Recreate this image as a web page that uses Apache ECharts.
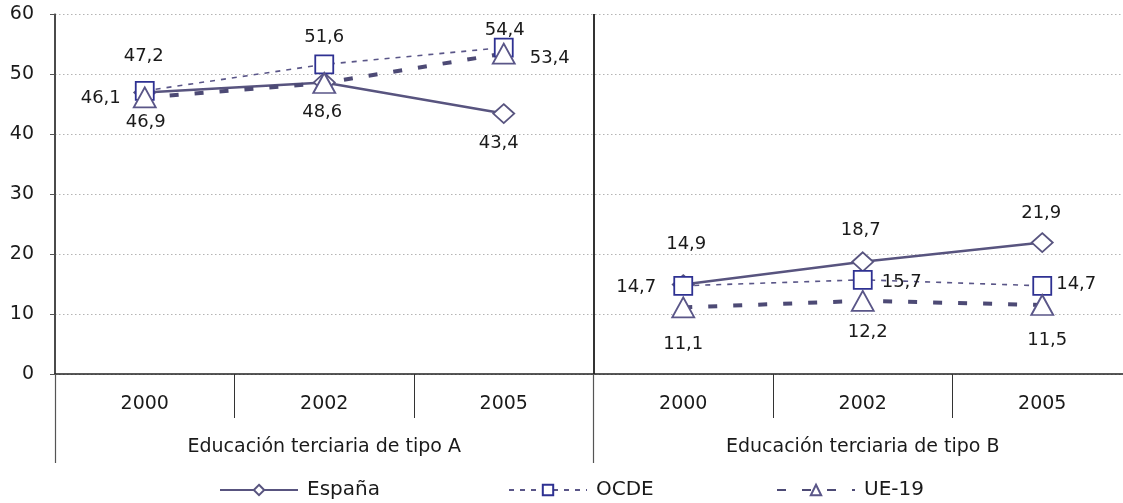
<!DOCTYPE html>
<html><head><meta charset="utf-8">
<script src="https://cdn.jsdelivr.net/npm/echarts@6/dist/echarts.min.js"></script>
<style>html,body{margin:0;padding:0;background:#fff}#c{width:1123px;height:503px}</style>
</head><body><div id="c"></div>
<script>
// ---- data ----
const years = ['2000', '2002', '2005', '2000', '2002', '2005'];
const groups = ['Educación terciaria de tipo A', 'Educación terciaria de tipo B'];
const seriesNames = ['España', 'OCDE', 'UE-19'];
const espana = [46.9, 48.6, 43.4, 14.9, 18.7, 21.9];
const ocde = [47.2, 51.6, 54.4, 14.7, 15.7, 14.7];
const ue19 = [46.1, 48.5, 53.4, 11.1, 12.2, 11.5];
const yTickLabels = [0, 10, 20, 30, 40, 50, 60];

// ---- styling ----
const FONT = 'DejaVu Sans';
const TXT = '#1a1a1a';
const labelOffsets = {
  'España': [[1, 30], [-2, 30], [-5, 30], [3, -40], [-2, -31], [-1, -29]],
  'OCDE':   [[-1, -34], [0, -27], [1, -17], [-47, 2], [39, 3], [34, -1]],
  'UE-19':  [[-44, 1], null, [46, 5], [0, 37], [5, 32], [5, 35]]
};
const styles = {
  'España': { symbol: 'diamond', symbolSize: [21, 19], line: { color: '#58547f', width: 2.5, type: 'solid' }, border: '#58547f' },
  'OCDE':   { symbol: 'rect', symbolSize: [18, 18], line: { color: '#5a5688', width: 1.6, type: [5, 6] }, border: '#2e3192' },
  'UE-19':  { symbol: 'triangle', symbolSize: [22, 20], line: { color: '#4d4a75', width: 4, type: [9, 16] }, border: '#5a5688' }
};
const fmt = v => String(v).replace('.', ',');

function makeSeries(name, values, groupIdx) {
  const st = styles[name];
  const data = values.map((v, i) => {
    if (Math.floor(i / 3) !== groupIdx) return '-';
    const off = labelOffsets[name][i];
    return { value: v, label: off ? { show: true, offset: off } : { show: false } };
  });
  return {
    name, type: 'line', data,
    symbol: st.symbol, symbolSize: st.symbolSize, showAllSymbol: true,
    lineStyle: { color: st.line.color, width: st.line.width, type: st.line.type },
    itemStyle: { color: '#ffffff', borderColor: st.border, borderWidth: 1.8 },
    label: { show: true, position: 'inside', formatter: p => fmt(p.value),
             fontFamily: FONT, fontSize: 18, color: TXT },
    emphasis: { disabled: true },
    animation: false
  };
}

const series = [];
[[ 'España', espana ], [ 'OCDE', ocde ], [ 'UE-19', ue19 ]].forEach(([n, vals]) => {
  series.push(makeSeries(n, vals, 0));
  series.push(makeSeries(n, vals, 1));
});

const legendLefts = [219, 508, 776];

const option = {
  backgroundColor: '#fff',
  animation: false,
  grid: { left: 55, width: 1077, top: 14, bottom: 129, containLabel: false, outerBoundsMode: 'none' },
  xAxis: [
    {
      type: 'category', data: years, position: 'bottom', offset: 0,
      axisLine: { show: true, lineStyle: { color: '#222', width: 1.5 } },
      axisTick: { show: true, interval: 0, length: 44, lineStyle: { color: '#333', width: 1 } },
      axisLabel: { interval: 0, margin: 21, fontFamily: FONT, fontSize: 19, color: TXT },
      splitLine: { show: false }
    },
    {
      type: 'category', data: groups, position: 'bottom', offset: 0,
      axisLine: { show: false },
      axisTick: { show: true, interval: 0, length: 89, lineStyle: { color: '#555', width: 1.2 } },
      axisLabel: { interval: 0, margin: 64, fontFamily: FONT, fontSize: 19, color: TXT },
      splitLine: { show: true, interval: 0, lineStyle: { color: '#333', width: 2 } }
    }
  ],
  yAxis: {
    type: 'value', min: yTickLabels[0], max: yTickLabels[yTickLabels.length - 1],
    interval: yTickLabels[1] - yTickLabels[0],
    axisLine: { show: true, lineStyle: { color: '#555', width: 1.5 } },
    axisTick: { show: true, length: 5, lineStyle: { color: '#555' } },
    axisLabel: { margin: 21, fontFamily: FONT, fontSize: 19, color: TXT },
    splitLine: { show: true, lineStyle: { color: '#b4b4b4', width: 1, type: [1.5, 2.5] } }
  },
  legend: seriesNames.map((n, i) => ({
    data: [n], left: legendLefts[i], top: 480, padding: 0, itemWidth: 78, itemHeight: 13,
    selectedMode: false,
    textStyle: { fontFamily: FONT, fontSize: 20, color: TXT, padding: [0, 0, 0, 4] }
  })),
  series
};

const chart = echarts.init(document.getElementById('c'), null, { renderer: 'canvas' });
chart.setOption(option);
</script>
</body></html>
